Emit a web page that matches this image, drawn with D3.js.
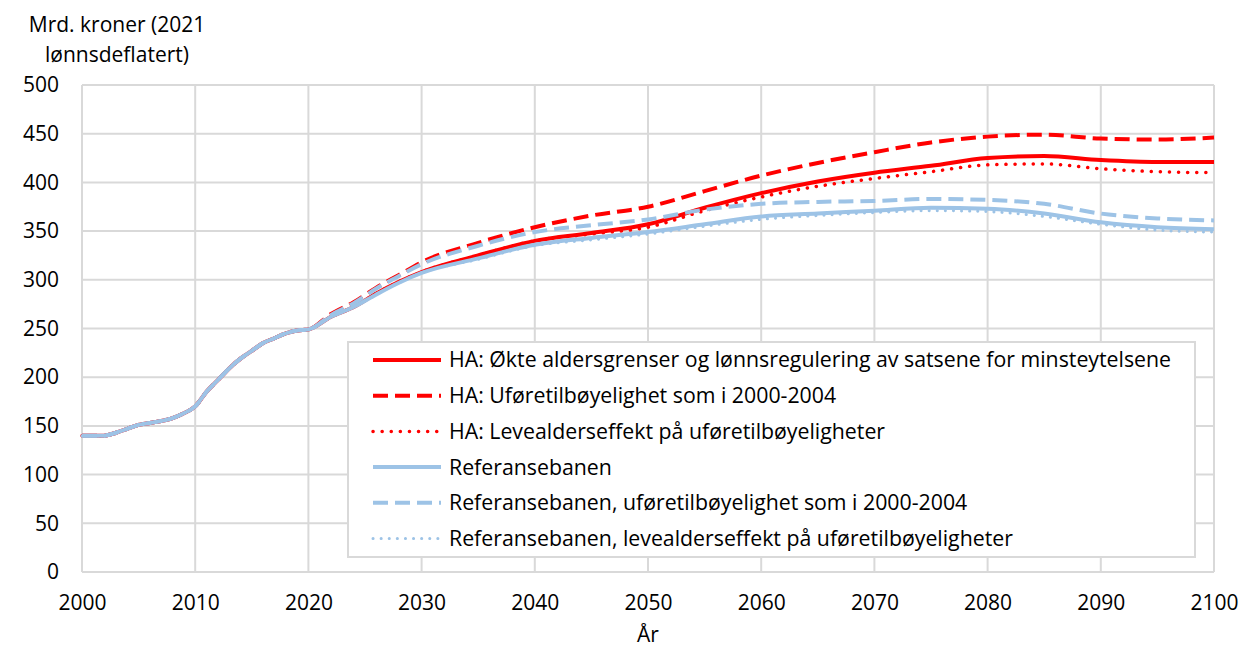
<!DOCTYPE html>
<html><head><meta charset="utf-8">
<script src="https://cdn.jsdelivr.net/npm/d3@7"></script>
<style>body{margin:0;background:#fff}svg{display:block}text{font-family:"Open Sans",sans-serif;fill:#000}</style>
</head><body><svg id="c" width="1242" height="647"></svg>
<script>
// Historical values (common for all series), 2000-2020
const histYears = d3.range(2000, 2021);
const histValues = [140,140,140,143,147,151,153,155,158,163,170,185,197,209,219,227,235,240,245,248,249];
// Projection years
const projYears = [2020,2022,2024,2026,2028,2030,2035,2040,2045,2050,2055,2060,2065,2070,2075,2080,2085,2090,2095,2100];
const haSolid   = [249,262,272,286,298,308,325,340,348,357,374,389,401,410,417,425,427,423,421,421];
const haDashed  = [249,265,277,292,305,318,338,354,366,375,391,407,420,431,441,447,449,445,444,446];
const haDotted  = [249,262,272,286,298,308,325,340,347,354,371,385,396,404,411,418,419,414,411,410];
const refSolid  = [249,262,272,285,297,307,322,336,343,349,357,365,368,371,374,373,368,359,354,352];
const refDashed = [249,264,276,291,304,316,335,349,356,362,372,378,380,381,383,382,378,368,363,361];
const refDotted = [249,262,272,285,297,307,321,335,341,347,355,362,366,369,371,370,365,357,351,349];
const seriesNames = [
  "HA: Økte aldersgrenser og lønnsregulering av satsene for minsteytelsene",
  "HA: Uføretilbøyelighet som i 2000-2004",
  "HA: Levealderseffekt på uføretilbøyeligheter",
  "Referansebanen",
  "Referansebanen, uføretilbøyelighet som i 2000-2004",
  "Referansebanen, levealderseffekt på uføretilbøyeligheter"
];
const seriesValues = [haSolid, haDashed, haDotted, refSolid, refDashed, refDotted];
const xTicks = d3.range(2000, 2101, 10);
const yTicks = d3.range(0, 501, 50);
const yTitle = ["Mrd. kroner (2021", "lønnsdeflatert)"];
const xTitle = "År";

const RED = "#ff0000", BLUE = "#9dc3e6";
const styles = [
  {c:RED, w:4, d:null, cap:"butt"},
  {c:RED, w:4, d:"15,7", cap:"butt"},
  {c:RED, w:3.5, d:"0.1,9", cap:"round"},
  {c:BLUE, w:4, d:null, cap:"butt"},
  {c:BLUE, w:4, d:"15,7", cap:"butt"},
  {c:BLUE, w:3, d:"0.1,8", cap:"round"}
];
const FS = "21px";

const svg = d3.select("#c");
const x = d3.scaleLinear().domain([2000,2100]).range([82,1214]);
const y = d3.scaleLinear().domain([0,500]).range([572,85]);

// grid
svg.append("g").selectAll("line").data(yTicks).join("line")
  .attr("x1",x(2000)).attr("x2",x(2100)).attr("y1",d=>y(d)).attr("y2",d=>y(d))
  .attr("stroke","#d9d9d9").attr("stroke-width",2);
svg.append("g").selectAll("line").data(xTicks).join("line")
  .attr("x1",d=>x(d)).attr("x2",d=>x(d)).attr("y1",y(0)).attr("y2",y(500))
  .attr("stroke","#d9d9d9").attr("stroke-width",2);

// axes labels via d3 axes
const yAxis = svg.append("g").attr("transform",`translate(${x(2000)-23},0)`)
  .call(d3.axisLeft(y).tickValues(yTicks).tickSize(0).tickPadding(0));
yAxis.select(".domain").remove();
yAxis.selectAll("text").style("font-size",FS).style("font-family","Open Sans").attr("fill","#000");
const xAxis = svg.append("g").attr("transform",`translate(0,${y(0)+23})`)
  .call(d3.axisBottom(x).tickValues(xTicks).tickFormat(d3.format("d")).tickSize(0).tickPadding(0));
xAxis.select(".domain").remove();
xAxis.selectAll("text").style("font-size",FS).style("font-family","Open Sans").attr("fill","#000");

svg.append("g").selectAll("text").data(yTitle).join("text")
  .attr("x",117).attr("y",(d,i)=>32+i*30).attr("text-anchor","middle")
  .style("font-size",FS).text(d=>d);
svg.append("text").attr("x",648).attr("y",642).attr("text-anchor","middle")
  .style("font-size",FS).text(xTitle);

// lines
const line = d3.line().x(d=>x(d[0])).y(d=>y(d[1])).curve(d3.curveMonotoneX);
seriesValues.forEach((vals,i)=>{
  const pts = histYears.map((yr,k)=>[yr,histValues[k]]).concat(projYears.slice(1).map((yr,k)=>[yr,vals[k+1]]));
  const s = styles[i];
  svg.append("path").datum(pts).attr("d",line).attr("fill","none")
    .attr("stroke",s.c).attr("stroke-width",s.w).attr("stroke-dasharray",s.d)
    .attr("stroke-linecap",s.cap).attr("stroke-linejoin","round");
});

// legend
const lg = svg.append("g");
lg.append("rect").attr("x",348).attr("y",342).attr("width",847).attr("height",215)
  .attr("fill","#fff").attr("stroke","#d9d9d9").attr("stroke-width",2);
seriesNames.forEach((n,i)=>{
  const cy = 360 + i*35.7;
  const s = styles[i];
  lg.append("line").attr("x1",373).attr("x2",441).attr("y1",cy).attr("y2",cy)
    .attr("stroke",s.c).attr("stroke-width",s.w).attr("stroke-dasharray",s.d).attr("stroke-linecap",s.cap);
  lg.append("text").attr("x",449).attr("y",cy).attr("dy","0.35em").style("font-size","21.3px").text(n);
});
</script></body></html>
